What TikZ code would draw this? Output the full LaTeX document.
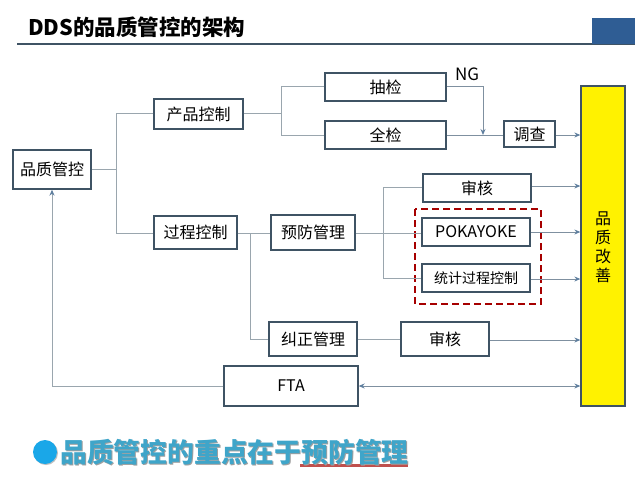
\documentclass[tikz,border=0pt]{standalone}
\usepackage{fontspec}
\setmainfont{Noto Sans CJK SC}
\usetikzlibrary{arrows.meta,calc}
\definecolor{boxline}{HTML}{3F5364}
\definecolor{conn}{HTML}{9AA6AE}
\definecolor{connd}{HTML}{7F90A0}
\definecolor{tip}{HTML}{5F7F9F}
\definecolor{teal}{HTML}{3FA5C9}
\definecolor{hdr}{HTML}{2F5D94}
\definecolor{bullet}{HTML}{1AA7E8}
\definecolor{uline}{HTML}{C0504D}
\newcommand{\fs}[1]{\fontsize{#1pt}{#1pt}\selectfont}
\tikzset{
  x=1pt,y=-1pt,
  bx/.style={draw=boxline,line width=1.3pt,fill=white,inner sep=0pt,text=black,font=\fs{16}},
  link/.style={draw=conn,line width=1pt},
  arrowlink/.style={draw=connd,line width=1pt,-{Stealth[length=6pt,width=5pt,color=tip]}},
  twoway/.style={draw=connd,line width=1pt,{Stealth[length=6pt,width=5pt,color=tip]}-{Stealth[length=6pt,width=5pt,color=tip]}},
}
\newcommand{\bxat}[6][]{\node[bx,#1,minimum width=#4pt-#3pt,minimum height=#6pt-#5pt] (#2) at ({(#3+#4)/2},{(#5+#6)/2})}
\begin{document}
\begin{tikzpicture}
\useasboundingbox (0,0) rectangle (640,480);
\fill[white] (0,0) rectangle (640,480);
% header
\coordinate (ruleL) at (17,44);
\coordinate (ruleR) at (635,44);
\draw[boxline,line width=1.2pt] (ruleL) -- (ruleR);
\fill[hdr] (592,18) rectangle (635,44);
\node[anchor=west,inner sep=0pt,font=\fs{21.5}\bfseries] (title) at (28,27) {DDS的品质管控的架构};
% boxes
\node[draw=boxline,line width=1.3pt,fill=yellow,minimum width=44pt,minimum height=320pt,inner sep=0pt] (yel) at (603,246) {};
\node[align=center,font=\fs{16},inner sep=0pt,text=black] (yeltext) at (603,247) {品\\[3pt]质\\[3pt]改\\[3pt]善};
\draw[draw=red!65!black,fill=none,line width=1.3pt,dash pattern=on 7pt off 4pt] (415,209) rectangle (541,304);
\bxat{qc}{13}{91}{150}{189} {品质管控};
\bxat{pc}{154}{243}{99}{129} {产品控制};
\bxat{gc}{154}{237}{216}{249} {过程控制};
\bxat{yf}{271}{355}{215}{250} {预防管理};
\bxat{cj}{325}{446}{73}{101} {抽检};
\bxat{qj}{325}{446}{121}{149} {全检};
\bxat{dc}{504}{555}{121}{147} {调查};
\bxat{sh}{423}{531}{174}{202} {审核};
\bxat{pk}{422}{530}{218}{246} {POKAYOKE};
\bxat[font=\fs{14}]{spc}{422}{530}{264}{292} {统计过程控制};
\bxat{jz}{269}{357}{322}{356} {纠正管理};
\bxat{sh2}{401}{489}{322}{356} {审核};
\bxat{fta}{224}{358}{366}{406} {FTA};
\node[inner sep=0pt,font=\fs{17}] (ng) at (467,74) {NG};
% junctions
\coordinate (j1) at (116,169);
\coordinate (j2) at (281,113);
\coordinate (j3) at (383,233);
\coordinate (j4) at (250,233);
\coordinate (j5) at (483,135);
% connectors
\draw[link] (qc.east |- j1) -- (j1);
\draw[link] (pc.west |- 0,113) -- (116,113) -- (116,233) -- (gc.west |- 0,233);
\draw[link] (pc.east |- j2) -- (j2);
\draw[link] (cj.west |- 0,86) -- (281,86) -- (281,135) -- (qj.west |- 0,135);
\draw[link,draw=connd] (qj.east |- j5) -- (dc.west |- j5);
\draw[arrowlink] (cj.east |- 0,86) -- (483,86) -- (j5);
\draw[arrowlink] (dc.east |- 0,135) -- (yel.west |- 0,135);
\draw[arrowlink] (sh.east |- 0,186) -- (yel.west |- 0,186);
\draw[arrowlink] (pk.east |- 0,232) -- (yel.west |- 0,232);
\draw[arrowlink] (spc.east |- 0,279) -- (yel.west |- 0,279);
\draw[arrowlink] (sh2.east |- 0,340) -- (yel.west |- 0,340);
\draw[twoway] (fta.east |- 0,386) -- (yel.west |- 0,386);
\draw[link] (yf.east |- j3) -- (pk.west |- j3);
\draw[link] (sh.west |- 0,187) -- (383,187) -- (383,278) -- (spc.west |- 0,278);
\draw[link] (gc.east |- j4) -- (yf.west |- j4);
\draw[link] (j4) -- (250,339) -- (jz.west |- 0,339);
\draw[link] (jz.east |- 0,339) -- (sh2.west |- 0,339);
\draw[link] (fta.west |- 0,386) -- (52,386) -- (52,200);
\draw[arrowlink,draw=conn] (52,200) -- (qc.south -| 52,0);
% bottom
\fill[uline] (300,464) rectangle (408,467);
\node[circle,fill=black!25,minimum size=24pt,inner sep=0pt] (dots) at (46,453) {};
\node[circle,fill=bullet,minimum size=24pt,inner sep=0pt] (dot) at (45,452) {};
\node[anchor=west,inner sep=0pt,font=\fs{26.8}\bfseries,text=gray!75] (tips) at (61,453) {品质管控的重点在于预防管理};
\node[anchor=west,inner sep=0pt,font=\fs{26.8}\bfseries,text=teal] (tip) at (60,452) {品质管控的重点在于预防管理};
\end{tikzpicture}
\end{document}
